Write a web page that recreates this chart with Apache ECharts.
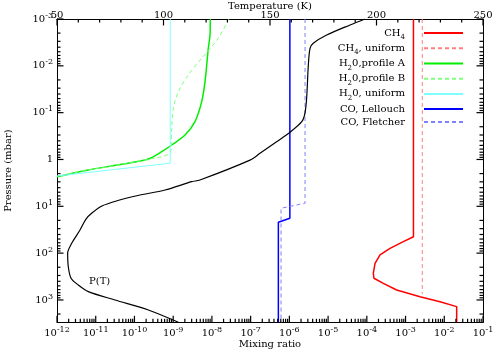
<!DOCTYPE html>
<html><head><meta charset="utf-8">
<script src="https://cdn.jsdelivr.net/npm/echarts@6/dist/echarts.min.js"></script>
<style>html,body{margin:0;padding:0;background:#fff}#c{width:495px;height:349px}</style>
</head><body><div id="c"></div>
<script>
// ---- data (mixing ratio vs pressure in mbar) ----
const ch4MR = [1.6e-3, 1.6e-3, 8.75e-4, 3.97e-4, 2.19e-4, 1.63e-4, 1.47e-4, 1.53e-4, 2.67e-4, 5.9e-4, 2.36e-3, 7.76e-3, 2.09e-2, 2.09e-2];
const ch4P  = [1e-3, 44.6, 56.9, 78.9, 109.4, 164.8, 269, 344, 441, 612, 851, 1089, 1390, 3000];
const ch4UniMR = [2.7e-3, 2.7e-3];
const ch4UniP  = [1e-3, 745];
const h2oAMR = [9.08e-9, 8.93e-9, 8.07e-9, 6.64e-9, 5.45e-9, 3.66e-9, 2.02e-9, 9.16e-10, 5.06e-10, 2.28e-10, 4.69e-11, 6.43e-12, 1e-12];
const h2oAP  = [1e-3, 2.2e-3, 4.23e-3, 0.0218, 0.0583, 0.156, 0.300, 0.491, 0.682, 0.977, 1.27, 1.67, 2.33];
const h2oBMR = [2.75e-8, 1.46e-8, 5.45e-9, 2.45e-9, 1.36e-9, 1.01e-9, 9.16e-10, 8.79e-10, 8.28e-10, 5.06e-10, 2.28e-10, 4.69e-11, 6.43e-12, 1e-12];
const h2oBP  = [1e-3, 2.58e-3, 6.9e-3, 0.0157, 0.0356, 0.0807, 0.216, 0.577, 0.738, 0.871, 0.991, 1.27, 1.67, 2.33];
const h2oUniMR = [8.4e-10, 8.4e-10, 1e-12];
const h2oUniP  = [1e-3, 1.2, 2.25];
const coLMR = [1.03e-6, 1.03e-6, 5.2e-7, 5.2e-7];
const coLP  = [1e-3, 18, 21.9, 3000];
const coFMR = [2.54e-6, 2.54e-6, 6.1e-7, 6.1e-7];
const coFP  = [1e-3, 8.6, 11, 3000];
// temperature profile P(T): temperature (K) vs pressure (mbar)
const tempK = [194.6, 187.6, 176.6, 170.3, 168.8, 168.0, 167.2, 166.4, 164.9, 159.4, 153.1, 145.3, 140.6, 117.1, 113.2, 100.7, 88.0, 78.6, 71.1, 66.4, 63.6, 60.8, 56.9, 55.0, 55.3, 56.6, 60.0, 64.7, 77.2, 92.9, 107];
const tempP = [1e-3, 1.34e-3, 2.20e-3, 3.30e-3, 4.23e-3, 9.6e-3, 0.0493, 0.103, 0.156, 0.262, 0.417, 0.738, 1.03, 2.74, 2.98, 4.48, 5.87, 7.52, 9.84, 13.9, 18.7, 32.1, 61.7, 100.7, 194.5, 344, 479, 665, 1000, 1637, 3000];
const seriesNames = ['CH4', 'CH4, uniform', 'H20,profile A', 'H20,profile B', 'H20, uniform', 'CO, Lellouch', 'CO, Fletcher'];
// ---- axis tick values ----
const mrMajor = [1e-12, 1e-11, 1e-10, 1e-9, 1e-8, 1e-7, 1e-6, 1e-5, 1e-4, 1e-3, 1e-2, 1e-1];
const pMajor = [1e-3, 1e-2, 1e-1, 1, 10, 100, 1000];
const tMajor = [50, 100, 150, 200, 250];
const tMinor = [60, 70, 80, 90, 110, 120, 130, 140, 160, 170, 180, 190, 210, 220, 230, 240];
const logMinorMult = [2, 3, 4, 5, 6, 7, 8, 9];
const mrMinor = mrMajor.slice(0, -1).flatMap(d => logMinorMult.map(m => m * d));
const pMinor = pMajor.flatMap(d => logMinorMult.map(m => m * d)).filter(v => v < 3000);

const zip = (a, b) => a.map((v, i) => [v, b[i]]);
const FONT = 'DejaVu Serif';
function expLabel(v) {
  const e = Math.log10(v), r = Math.round(e);
  if (Math.abs(e - r) > 1e-6) return '';
  if (r === 0) return '{b|1}';
  return '{b|10}{s|' + r + '}';
}
const labelRich = {
  b: {fontFamily: FONT, fontSize: 10, color: '#000', lineHeight: 15},
  s: {fontFamily: FONT, fontSize: 8, color: '#000', lineHeight: 8, verticalAlign: 'top'}
};
const legendRich = {
  t: {fontFamily: FONT, fontSize: 10, color: '#000', lineHeight: 15.6},
  u: {fontFamily: FONT, fontSize: 7, color: '#000', lineHeight: 7, verticalAlign: 'bottom'},
  g: {width: 14}
};
const legendText = {
  'CH4': '{t|CH}{u|4}{g|}',
  'CH4, uniform': '{t|CH}{u|4}{t|, uniform}{g|}',
  'H20,profile A': '{t|H}{u|2}{t|0,profile A}{g|}',
  'H20,profile B': '{t|H}{u|2}{t|0,profile B}{g|}',
  'H20, uniform': '{t|H}{u|2}{t|0, uniform}{g|}',
  'CO, Lellouch': '{t|CO, Lellouch}{g|}',
  'CO, Fletcher': '{t|CO, Fletcher}{g|}'
};
const nameStyle = {fontFamily: FONT, fontSize: 10, color: '#000'};
const axLine = {show: true, onZero: false, lineStyle: {color: '#000', width: 1}};
const noTick = {show: false};
const common = {axisLine: axLine, axisTick: noTick, minorTick: noTick, splitLine: {show: false}, minorSplitLine: {show: false}};

function line(name, mr, p, color, width, dashed, smooth) {
  return {
    name, type: 'line', xAxisIndex: 0, yAxisIndex: 0, data: zip(mr, p),
    symbol: 'none', smooth: smooth || false,
    lineStyle: {color, width, type: dashed ? [4, 3] : 'solid'}, itemStyle: {color}
  };
}
const TICK_STYLE = {stroke: '#000', lineWidth: 1.2};
const MAJ = 6.5, MIN = 3.5;
// inward ticks along the bottom edge (mixing ratio)
const bottomTicks = {
  type: 'custom', xAxisIndex: 0, yAxisIndex: 0, silent: true, z: 5, encode: {x: 0, y: 1},
  data: mrMajor.map(v => [v, 1, MAJ]).concat(mrMinor.map(v => [v, 1, MIN])),
  renderItem(params, api) {
    const cs = params.coordSys;
    const x = api.coord([api.value(0), 1])[0];
    const yb = cs.y + cs.height, L = api.value(2);
    return {type: 'line', shape: {x1: x, y1: yb, x2: x, y2: yb - L}, style: TICK_STYLE};
  }
};
// inward ticks along the top edge (temperature)
const topTicks = {
  type: 'custom', xAxisIndex: 1, yAxisIndex: 0, silent: true, z: 5, encode: {x: 0, y: 1},
  data: tMajor.map(v => [v, 1, MAJ]).concat(tMinor.map(v => [v, 1, MIN])),
  renderItem(params, api) {
    const cs = params.coordSys;
    const x = api.coord([api.value(0), 1])[0];
    const yt = cs.y, L = api.value(2);
    return {type: 'line', shape: {x1: x, y1: yt, x2: x, y2: yt + L}, style: TICK_STYLE};
  }
};
// inward ticks along the left and right edges (pressure)
const sideTicks = {
  type: 'custom', xAxisIndex: 0, yAxisIndex: 0, silent: true, z: 5, encode: {x: 0, y: 1},
  data: pMajor.map(v => [1e-6, v, MAJ]).concat(pMinor.map(v => [1e-6, v, MIN])),
  renderItem(params, api) {
    const cs = params.coordSys;
    const y = api.coord([1e-6, api.value(1)])[1], L = api.value(2);
    const xl = cs.x, xr = cs.x + cs.width;
    return {type: 'group', children: [
      {type: 'line', shape: {x1: xl, y1: y, x2: xl + L, y2: y}, style: TICK_STYLE},
      {type: 'line', shape: {x1: xr, y1: y, x2: xr - L, y2: y}, style: TICK_STYLE}
    ]};
  }
};

const chart = echarts.init(document.getElementById('c'));
chart.setOption({
  animation: false,
  backgroundColor: '#fff',
  grid: {left: 57, right: 12, top: 19, bottom: 26.7, containLabel: false, outerBoundsMode: 'none'},
  xAxis: [
    Object.assign({}, common, {type: 'log', position: 'bottom', min: 1e-12, max: 0.1, interval: 1, logBase: 10,
      name: 'Mixing ratio', nameLocation: 'middle', nameGap: 17, nameMoveOverlap: false, nameTextStyle: nameStyle,
      axisLabel: {formatter: expLabel, rich: labelRich, margin: 4}}),
    Object.assign({}, common, {type: 'value', position: 'top', min: 50, max: 250, interval: 50,
      name: 'Temperature (K)', nameLocation: 'middle', nameGap: 7.5, nameMoveOverlap: false, nameTextStyle: nameStyle,
      axisLabel: {fontFamily: FONT, fontSize: 10, color: '#000', margin: -1}})
  ],
  yAxis: [
    Object.assign({}, common, {type: 'log', position: 'left', inverse: true, min: 1e-3, max: 3000, interval: 1, logBase: 10,
      name: 'Pressure (mbar)', nameLocation: 'middle', nameRotate: 90, nameGap: 44, nameMoveOverlap: false, nameTextStyle: nameStyle,
      axisLabel: {formatter: expLabel, rich: labelRich, margin: 4}}),
    Object.assign({}, common, {type: 'log', position: 'right', inverse: true, min: 1e-3, max: 3000, interval: 1, logBase: 10,
      axisLabel: {show: false}})
  ],
  legend: {
    orient: 'vertical', right: 31, top: 27.5, padding: 0, align: 'right',
    itemWidth: 39, itemHeight: 14, itemGap: 1.8, selectedMode: false,
    itemStyle: {opacity: 0},
    data: seriesNames,
    formatter: n => legendText[n],
    textStyle: {fontFamily: FONT, fontSize: 10, color: '#000', rich: legendRich}
  },
  graphic: [{type: 'text', left: 89, top: 276, style: {text: 'P(T)', font: '10px "DejaVu Serif"', fill: '#000'}}],
  series: [
    line('CH4', ch4MR, ch4P, '#ff0000', 1.5, false, false),
    line('CH4, uniform', ch4UniMR, ch4UniP, '#ff8080', 1, true),
    line('H20,profile A', h2oAMR, h2oAP, '#00ee00', 1.5, false, 0.3),
    line('H20,profile B', h2oBMR, h2oBP, '#80ff80', 1, true, 0.3),
    line('H20, uniform', h2oUniMR, h2oUniP, '#80ffff', 1, false),
    line('CO, Lellouch', coLMR, coLP, '#0000ff', 1.5, false),
    line('CO, Fletcher', coFMR, coFP, '#8080ff', 1, true),
    {name: 'P(T)', type: 'line', xAxisIndex: 1, yAxisIndex: 0, data: zip(tempK, tempP), symbol: 'none',
     smooth: 0.3, lineStyle: {color: '#000', width: 1.2}, itemStyle: {color: '#000'}},
    bottomTicks, topTicks, sideTicks
  ]
});
</script></body></html>
